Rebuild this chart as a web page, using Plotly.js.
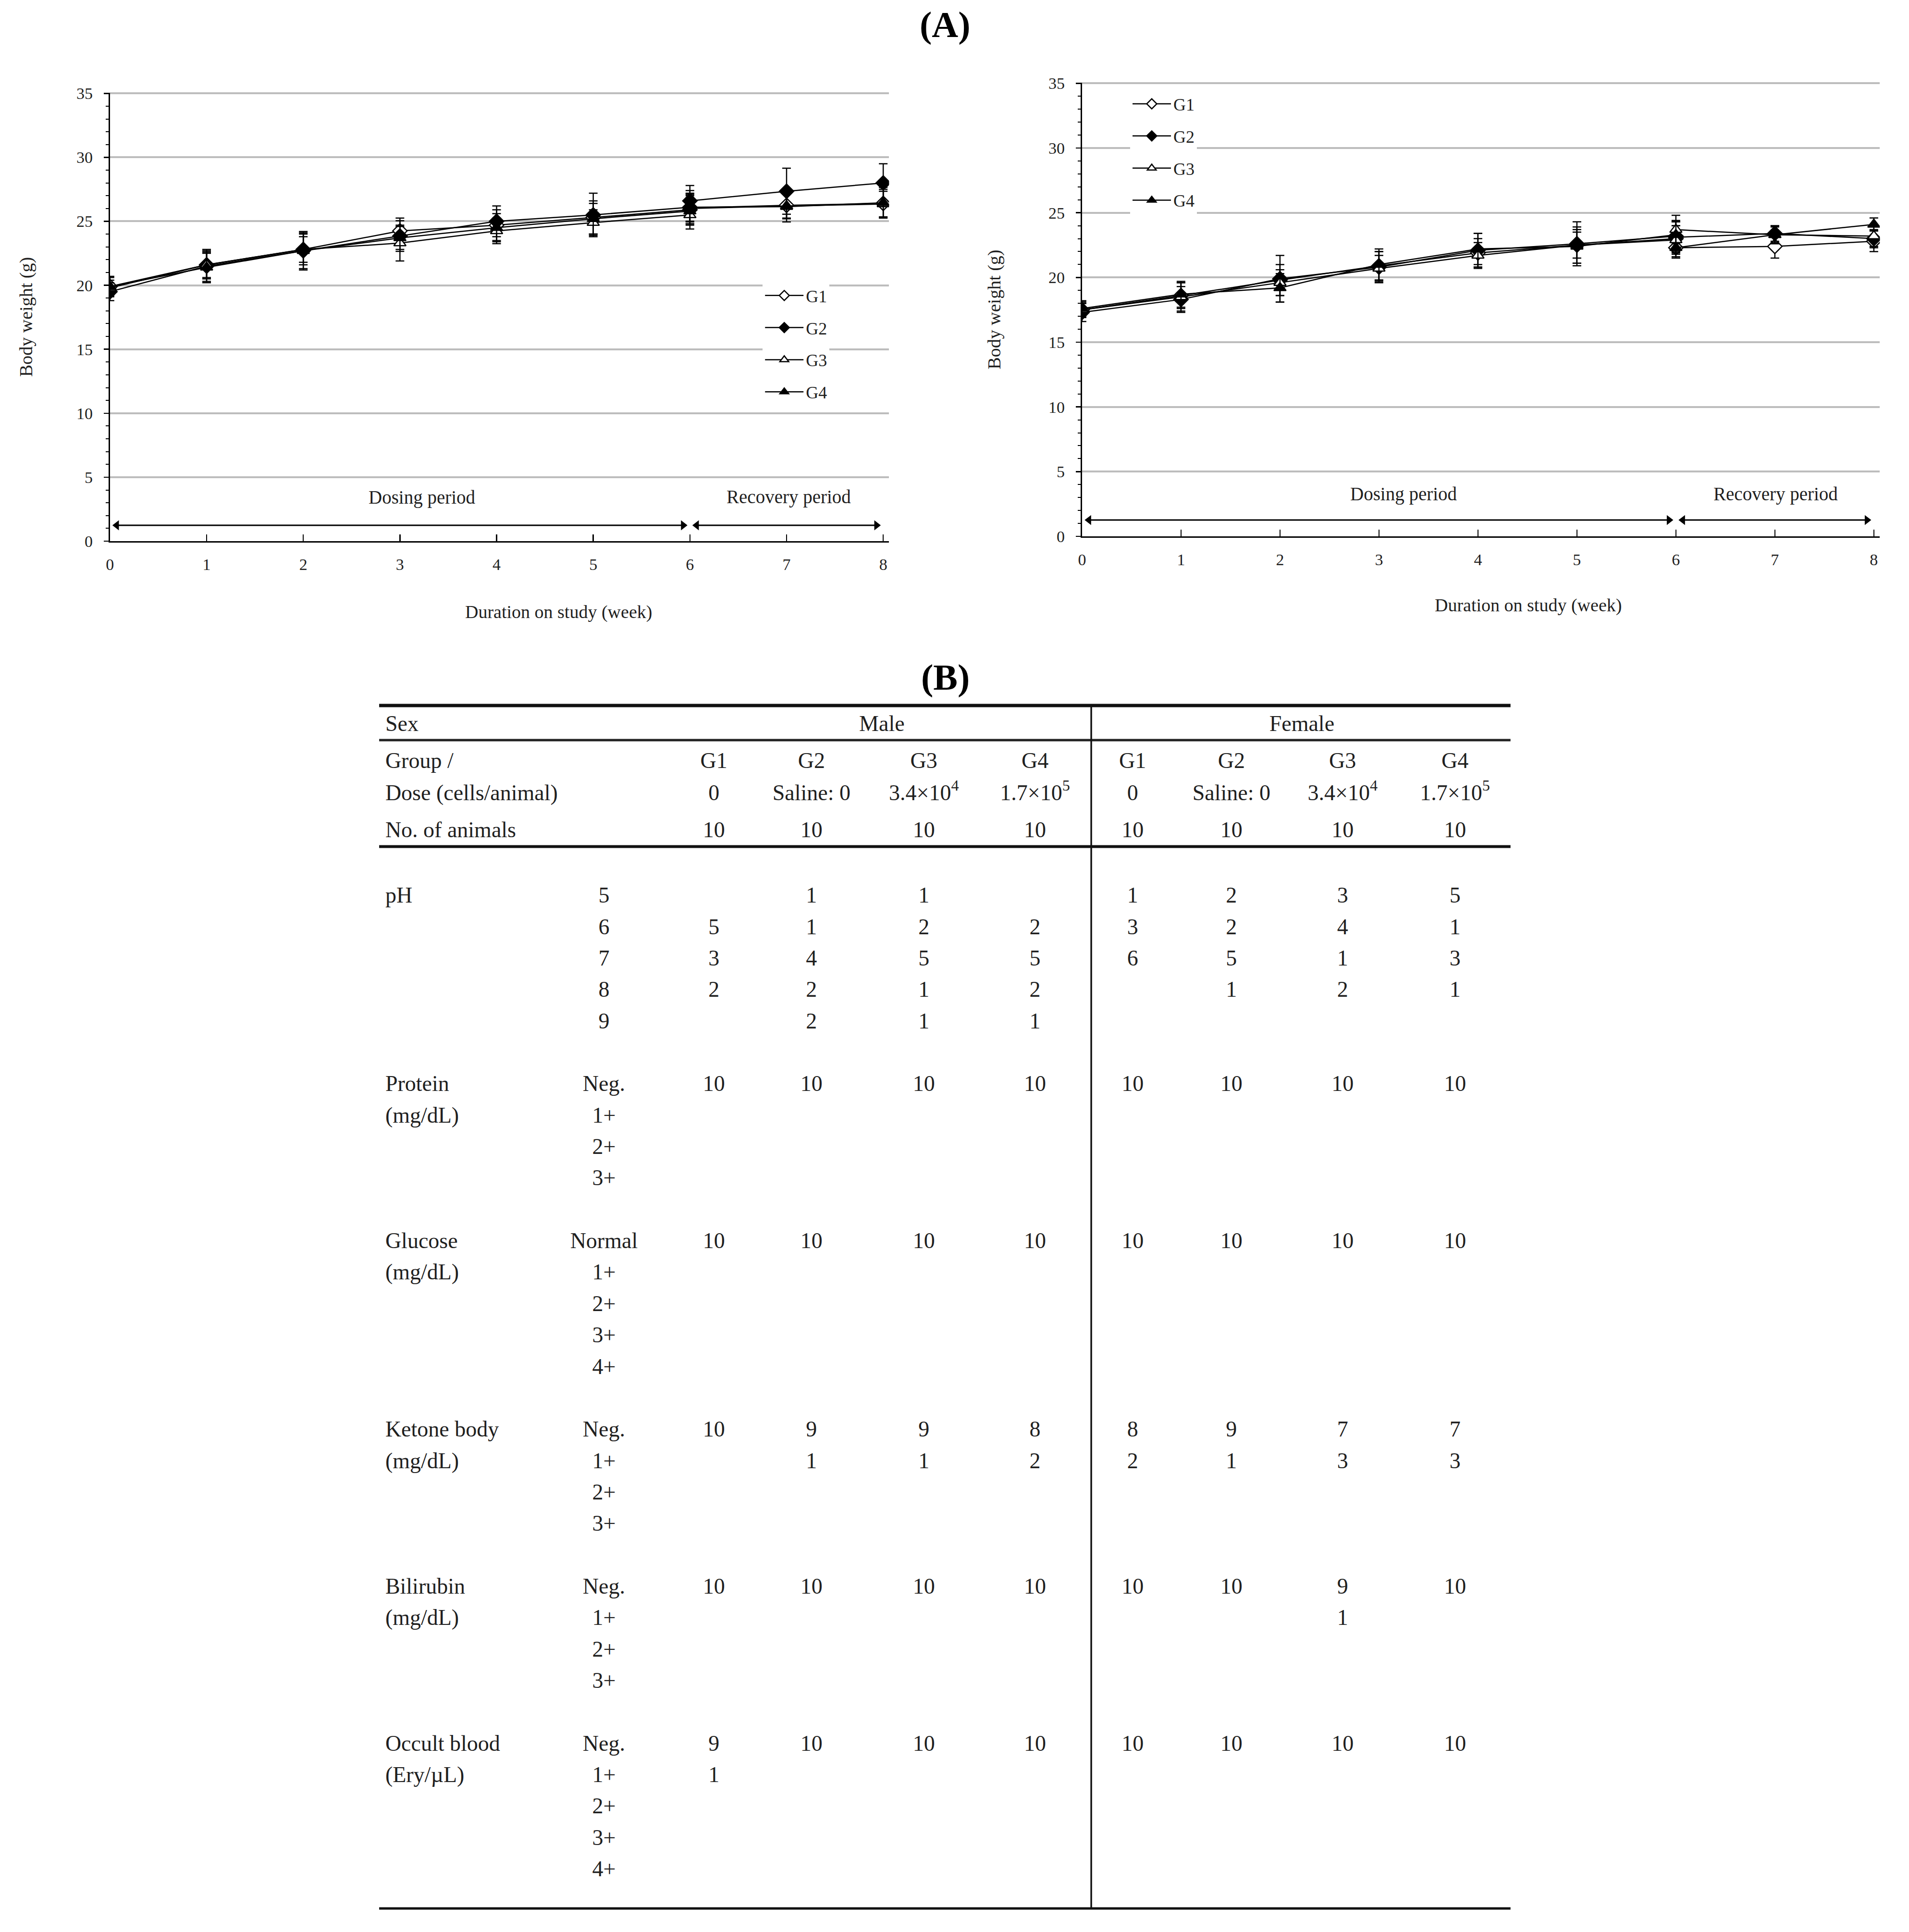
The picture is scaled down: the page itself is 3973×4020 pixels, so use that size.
<!DOCTYPE html>
<html>
<head>
<meta charset="utf-8">
<script src="https://cdn.plot.ly/plotly-3.0.1.min.js"></script>
<style>
html,body{margin:0;padding:0;background:#ffffff;}
#chart{width:3973px;height:4020px;}
</style>
</head>
<body>
<div id="chart"></div>
<script>
// ================= DATA =================
const weeksDosing = [0, 1, 2, 3, 4, 5, 6];
const weeksRecovery = [6, 7, 8];
const weekTicks = [0, 1, 2, 3, 4, 5, 6, 7, 8];
const groupNames = ['G1', 'G2', 'G3', 'G4'];

// Male body weight (g), dosing period
const maleG1 = [19.9, 21.6, 22.8, 24.25, 24.7, 25.3, 25.9];
const maleG2 = [19.5, 21.5, 22.7, 23.85, 25.0, 25.5, 26.1];
const maleG3 = [19.8, 21.6, 22.8, 23.3, 24.25, 24.9, 25.5];
const maleG4 = [19.9, 21.4, 22.7, 23.7, 24.5, 25.2, 25.8];
const maleG1Sd = [0.8, 1.1, 1.0, 1.0, 1.2, 1.3, 1.2];
const maleG2Sd = [0.7, 1.3, 1.5, 1.2, 1.2, 1.7, 1.3];
const maleG3Sd = [0.6, 1.0, 1.2, 1.4, 1.0, 1.0, 1.1];
const maleG4Sd = [0.7, 1.1, 1.4, 0.9, 1.1, 1.2, 1.0];
// Male body weight (g), recovery period
const maleRecG1 = [26.05, 26.25, 26.4];
const maleRecG2 = [26.6, 27.35, 28.0];
const maleRecG3 = [26.0, 26.2, 26.35];
const maleRecG4 = [26.1, 26.15, 26.45];
const maleRecG1Sd = [1.1, 1.0, 1.1];
const maleRecG2Sd = [1.2, 1.8, 1.5];
const maleRecG3Sd = [1.0, 1.0, 1.0];
const maleRecG4Sd = [1.1, 1.2, 1.2];

// Female body weight (g), dosing period
const femaleG1 = [17.5, 18.6, 19.8, 20.9, 21.9, 22.5, 23.0];
const femaleG2 = [17.3, 18.3, 19.9, 20.8, 22.1, 22.6, 23.2];
const femaleG3 = [17.5, 18.5, 19.6, 20.7, 21.7, 22.5, 22.9];
const femaleG4 = [17.6, 18.7, 19.2, 21.0, 22.2, 22.4, 23.3];
const femaleG1Sd = [0.6, 1.0, 1.2, 1.1, 1.1, 1.4, 1.0];
const femaleG2Sd = [0.7, 1.0, 1.8, 1.2, 1.3, 1.7, 1.2];
const femaleG3Sd = [0.5, 1.1, 1.0, 1.0, 1.0, 1.0, 1.1];
const femaleG4Sd = [0.6, 1.0, 1.1, 1.2, 1.2, 1.3, 1.0];
// Female body weight (g), recovery period
const femaleRecG1 = [22.3, 22.4, 22.8];
const femaleRecG2 = [23.1, 23.4, 23.0];
const femaleRecG3 = [23.7, 23.3, 23.2];
const femaleRecG4 = [22.3, 23.3, 24.1];
const femaleRecG1Sd = [0.7, 0.9, 0.8];
const femaleRecG2Sd = [1.2, 0.6, 0.7];
const femaleRecG3Sd = [1.1, 0.7, 0.8];
const femaleRecG4Sd = [0.8, 0.6, 0.5];

// Period spans (weeks)
const dosingSpan = [0, 6];
const recoverySpan = [6, 8];

// Table (B)
const sexLabels = ['Male', 'Female'];
const doseLabels = ['0', 'Saline: 0', '3.4×10<sup>4</sup>', '1.7×10<sup>5</sup>'];
const animalCounts = [10, 10, 10, 10];
const paramNames = ['pH', 'Protein', 'Glucose', 'Ketone body', 'Bilirubin', 'Occult blood'];
const paramUnits = ['', '(mg/dL)', '(mg/dL)', '(mg/dL)', '(mg/dL)', '(Ery/µL)'];
const phGrades = ['5', '6', '7', '8', '9'];
const proteinGrades = ['Neg.', '1+', '2+', '3+'];
const glucoseGrades = ['Normal', '1+', '2+', '3+', '4+'];
const ketoneGrades = ['Neg.', '1+', '2+', '3+'];
const bilirubinGrades = ['Neg.', '1+', '2+', '3+'];
const bloodGrades = ['Neg.', '1+', '2+', '3+', '4+'];
// counts per grade: Male G1..G4, Female G1..G4 (null = blank)
const phCounts = [
  [null, 1, 1, null, 1, 2, 3, 5],
  [5, 1, 2, 2, 3, 2, 4, 1],
  [3, 4, 5, 5, 6, 5, 1, 3],
  [2, 2, 1, 2, null, 1, 2, 1],
  [null, 2, 1, 1, null, null, null, null]
];
const proteinCounts = [
  [10, 10, 10, 10, 10, 10, 10, 10],
  [], [], []
];
const glucoseCounts = [
  [10, 10, 10, 10, 10, 10, 10, 10],
  [], [], [], []
];
const ketoneCounts = [
  [10, 9, 9, 8, 8, 9, 7, 7],
  [null, 1, 1, 2, 2, 1, 3, 3],
  [], []
];
const bilirubinCounts = [
  [10, 10, 10, 10, 10, 10, 9, 10],
  [null, null, null, null, null, null, 1, null],
  [], []
];
const bloodCounts = [
  [9, 10, 10, 10, 10, 10, 10, 10],
  [1, null, null, null, null, null, null, null],
  [], [], []
];

// ================= STYLE / LAYOUT =================
const FONT = 'Liberation Serif, Times New Roman, serif';
const TXT = '#1f1f1f';
const markerStyle = {
  G1: {symbol: 'diamond', fill: 'white', size: 23},
  G2: {symbol: 'diamond', fill: 'black', size: 23},
  G3: {symbol: 'triangle-up', fill: 'white', size: 22},
  G4: {symbol: 'triangle-up', fill: 'black', size: 22}
};

function errBar(sd) {
  return {type: 'data', array: sd, visible: true, color: 'black', thickness: 2.5, width: 9};
}
function seriesTraces(name, mean, sd, recMean, recSd, xa, ya, legendId) {
  const st = markerStyle[name];
  const base = {
    mode: 'lines+markers', xaxis: xa, yaxis: ya, legend: legendId,
    legendgroup: legendId + name, name: name,
    line: {color: 'black', width: 2.5},
    marker: {symbol: st.symbol, size: st.size, color: st.fill, line: {color: 'black', width: 2.5}},
    hoverinfo: 'skip'
  };
  return [
    Object.assign({}, base, {x: weeksDosing, y: mean, error_y: errBar(sd), showlegend: true}),
    Object.assign({}, base, {x: weeksRecovery, y: recMean, error_y: errBar(recSd), showlegend: false})
  ];
}
// double-headed period arrow drawn as a line with arrow-head markers
const arrowInset = 0.07;
function periodArrow(span, yv, xa, ya) {
  return {
    type: 'scatter', mode: 'lines+markers', xaxis: xa, yaxis: ya,
    x: [span[0] + arrowInset, span[1] - arrowInset], y: [yv, yv],
    line: {color: 'black', width: 3},
    marker: {symbol: ['triangle-left', 'triangle-right'], size: 18, color: 'black', line: {width: 0}},
    showlegend: false, hoverinfo: 'skip', cliponaxis: false
  };
}

const traces = [];
const maleSets = [[maleG1, maleG1Sd, maleRecG1, maleRecG1Sd], [maleG2, maleG2Sd, maleRecG2, maleRecG2Sd],
                  [maleG3, maleG3Sd, maleRecG3, maleRecG3Sd], [maleG4, maleG4Sd, maleRecG4, maleRecG4Sd]];
const femaleSets = [[femaleG1, femaleG1Sd, femaleRecG1, femaleRecG1Sd], [femaleG2, femaleG2Sd, femaleRecG2, femaleRecG2Sd],
                    [femaleG3, femaleG3Sd, femaleRecG3, femaleRecG3Sd], [femaleG4, femaleG4Sd, femaleRecG4, femaleRecG4Sd]];
traces.push(periodArrow(dosingSpan, 1.24, 'x', 'y'), periodArrow(recoverySpan, 1.24, 'x', 'y'));
traces.push(periodArrow(dosingSpan, 1.26, 'x2', 'y2'), periodArrow(recoverySpan, 1.26, 'x2', 'y2'));
groupNames.forEach((g, i) => {
  const s = maleSets[i];
  traces.push(...seriesTraces(g, s[0], s[1], s[2], s[3], 'x', 'y', 'legend'));
});
groupNames.forEach((g, i) => {
  const s = femaleSets[i];
  traces.push(...seriesTraces(g, s[0], s[1], s[2], s[3], 'x2', 'y2', 'legend2'));
});

// ---- table as text marks on a hidden axis pair (x3/y3) ----
// x3 units: table pixels (left rule = 307, right rule = 1223); y3 units: body rows
const colLabelX = 312;
const colGradeX = 489;
const colDataX = [578, 657, 748, 838, 917, 997, 1087, 1178];
const sexCenterX = [714, 1054];
const dividerX = 883.5;
const rowSex = -5.47, rowGroup = -4.29, rowDose = -3.27, rowN = -2.08;

function textTrace(xs, ys, texts, pos) {
  return {
    type: 'scatter', mode: 'text', xaxis: 'x3', yaxis: 'y3', x: xs, y: ys, text: texts,
    textposition: pos, textfont: {family: FONT, size: 46, color: TXT},
    showlegend: false, hoverinfo: 'skip', cliponaxis: false
  };
}

traces.push(textTrace([colLabelX, colLabelX, colLabelX, colLabelX],
  [rowSex, rowGroup, rowDose, rowN],
  ['Sex', 'Group /', 'Dose (cells/animal)', 'No. of animals'], 'middle right'));
traces.push(textTrace(sexCenterX, [rowSex, rowSex], sexLabels, 'middle center'));
{
  const xs = [], ys = [], tx = [];
  colDataX.forEach((cx, j) => {
    const k = j % 4;
    xs.push(cx, cx, cx); ys.push(rowGroup, rowDose, rowN);
    tx.push(groupNames[k], doseLabels[k], String(animalCounts[k]));
  });
  traces.push(textTrace(xs, ys, tx, 'middle center'));
}
const allGrades = [phGrades, proteinGrades, glucoseGrades, ketoneGrades, bilirubinGrades, bloodGrades];
const allCounts = [phCounts, proteinCounts, glucoseCounts, ketoneCounts, bilirubinCounts, bloodCounts];
{
  const lx = [], ly = [], lt = [];
  const gx = [], gy = [], gt = [];
  const dx = [], dy = [], dt = [];
  let row = 0;
  paramNames.forEach((p, i) => {
    lx.push(colLabelX); ly.push(row); lt.push(p);
    if (paramUnits[i]) { lx.push(colLabelX); ly.push(row + 1); lt.push(paramUnits[i]); }
    allGrades[i].forEach((gr, r) => {
      gx.push(colGradeX); gy.push(row + r); gt.push(gr);
      const vals = allCounts[i][r] || [];
      vals.forEach((v, j) => {
        if (v !== null && v !== undefined) { dx.push(colDataX[j]); dy.push(row + r); dt.push(String(v)); }
      });
    });
    row += allGrades[i].length + 1;
  });
  traces.push(textTrace(lx, ly, lt, 'middle right'));
  traces.push(textTrace(gx, gy, gt, 'middle center'));
  traces.push(textTrace(dx, dy, dt, 'middle center'));
}

// table rules
const ruleTop = -6.1, ruleSex = -5.0, ruleHead = -1.61, ruleBottom = 32.2;
const tableLeft = 307, tableRight = 1223;
const shapes = [
  {type: 'line', xref: 'x3', yref: 'y3', x0: tableLeft, x1: tableRight, y0: ruleTop, y1: ruleTop, line: {color: '#111', width: 7}},
  {type: 'line', xref: 'x3', yref: 'y3', x0: tableLeft, x1: tableRight, y0: ruleSex, y1: ruleSex, line: {color: '#222', width: 5}},
  {type: 'line', xref: 'x3', yref: 'y3', x0: tableLeft, x1: tableRight, y0: ruleHead, y1: ruleHead, line: {color: '#111', width: 6}},
  {type: 'line', xref: 'x3', yref: 'y3', x0: tableLeft, x1: tableRight, y0: ruleBottom, y1: ruleBottom, line: {color: '#111', width: 5}},
  {type: 'line', xref: 'x3', yref: 'y3', x0: dividerX, x1: dividerX, y0: ruleTop, y1: ruleBottom, line: {color: '#111', width: 3.5}}
];

function xAxisCfg(domain, anchor) {
  return {
    domain: domain, anchor: anchor, range: [0, 8.06], tickvals: weekTicks,
    showgrid: false, zeroline: false, showline: true, linecolor: 'black', linewidth: 3,
    ticks: 'inside', ticklen: 14, tickwidth: 2.5, tickcolor: 'black',
    tickfont: {family: FONT, size: 34, color: TXT}, ticklabelstandoff: 16,
    automargin: false, fixedrange: true
  };
}
function yAxisCfg(domain, anchor, standoff) {
  return {
    domain: domain, anchor: anchor, range: [0, 35.05], dtick: 5, tick0: 0,
    showgrid: true, gridcolor: '#bdbdbd', gridwidth: 4, zeroline: false,
    showline: true, linecolor: 'black', linewidth: 3,
    ticks: 'outside', ticklen: 10, tickwidth: 2.5, tickcolor: 'black',
    minor: {dtick: 1, ticks: 'outside', ticklen: 6, tickwidth: 2, tickcolor: 'black', showgrid: false},
    tickfont: {family: FONT, size: 34, color: TXT}, ticklabelstandoff: 16,
    title: {text: 'Body weight (g)', font: {family: FONT, size: 38, color: TXT}, standoff: standoff},
    automargin: false, fixedrange: true
  };
}

function periodLabel(xa, ya, xv, yv, t) {
  return {xref: xa, yref: ya, x: xv, y: yv, text: t, showarrow: false,
    font: {family: FONT, size: 39, color: TXT}, xanchor: 'center', yanchor: 'middle'};
}
function xTitle(xa, xv, yPaper) {
  return {xref: xa, yref: 'paper', x: xv, y: yPaper, text: 'Duration on study (week)', showarrow: false,
    font: {family: FONT, size: 38, color: TXT}, xanchor: 'center', yanchor: 'middle'};
}

const annotations = [
  {xref: 'paper', yref: 'paper', x: 0.4951, y: 0.9873, text: '<b>(A)</b>', showarrow: false,
    font: {family: FONT, size: 76, color: 'black'}, xanchor: 'center', yanchor: 'middle'},
  {xref: 'paper', yref: 'paper', x: 0.4951, y: 0.6495, text: '<b>(B)</b>', showarrow: false,
    font: {family: FONT, size: 76, color: 'black'}, xanchor: 'center', yanchor: 'middle'},
  periodLabel('x', 'y', 3.23, 3.4, 'Dosing period'),
  periodLabel('x', 'y', 7.02, 3.45, 'Recovery period'),
  periodLabel('x2', 'y2', 3.25, 3.26, 'Dosing period'),
  periodLabel('x2', 'y2', 7.01, 3.26, 'Recovery period'),
  xTitle('x', 4.64, 0.6833),
  xTitle('x2', 4.51, 0.6866)
];

const legendBase = {
  xanchor: 'left', yanchor: 'top', bgcolor: 'white', borderwidth: 0,
  font: {family: FONT, size: 36, color: TXT}, itemwidth: 80, tracegroupgap: 17,
  traceorder: 'grouped', itemsizing: 'trace', itemclick: false, itemdoubleclick: false
};

const layout = {
  width: 3973, height: 4020,
  margin: {l: 0, r: 0, t: 0, b: 0},
  paper_bgcolor: 'white', plot_bgcolor: 'white',
  font: {family: FONT, color: TXT},
  showlegend: true,
  xaxis: xAxisCfg([0.0576, 0.4657], 'y'),
  yaxis: yAxisCfg([0.7199, 0.952], 'x', 80),
  xaxis2: xAxisCfg([0.5668, 0.9847], 'y2'),
  yaxis2: yAxisCfg([0.7224, 0.9572], 'x2', 88),
  xaxis3: {domain: [0.1986, 0.7913], anchor: 'y3', range: [307, 1223], visible: false, fixedrange: true},
  yaxis3: {domain: [0.00729, 0.6413], anchor: 'x3', range: [32.5, -6.5], visible: false, fixedrange: true},
  legend: Object.assign({}, legendBase, {x: 0.3995, y: 0.8545}),
  legend2: Object.assign({}, legendBase, {x: 0.592, y: 0.9537}),
  shapes: shapes,
  annotations: annotations
};

Plotly.newPlot('chart', traces, layout, {staticPlot: true, displayModeBar: false});
</script>
</body>
</html>
